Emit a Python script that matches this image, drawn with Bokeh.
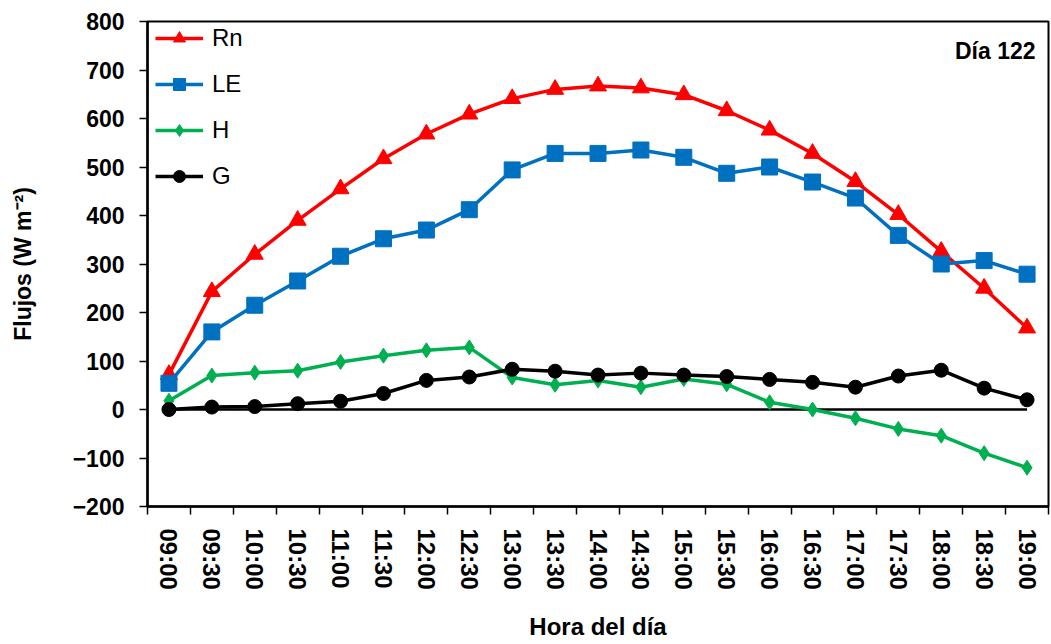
import math
from bokeh.plotting import figure
from bokeh.models import FixedTicker, Legend, LegendItem, Label, Range1d
from bokeh.embed import file_html
from bokeh.resources import INLINE

hours = ["09:00", "09:30", "10:00", "10:30", "11:00", "11:30", "12:00", "12:30",
         "13:00", "13:30", "14:00", "14:30", "15:00", "15:30", "16:00", "16:30",
         "17:00", "17:30", "18:00", "18:30", "19:00"]
rn = [72, 243, 320, 390, 455, 517, 568, 609, 641, 660, 667, 663, 649, 616, 576,
      528, 470, 402, 326, 250, 168]
le = [54, 160, 215, 265, 316, 352, 370, 412, 494, 528, 528, 535, 520, 487, 500,
      469, 436, 359, 300, 307, 279]
h = [18, 70, 76, 80, 98, 111, 122, 128, 66, 51, 60, 46, 63, 52, 15, 0, -18, -40,
     -54, -90, -120]
g = [0, 5, 6, 12, 17, 33, 60, 67, 83, 79, 71, 75, 71, 68, 62, 56, 46, 69, 81, 44, 20]
y_ticks = list(range(-200, 801, 100))

FONT = "Liberation Sans"
idx = list(range(len(hours)))

p = figure(width=1051, height=644, x_range=Range1d(-0.5, len(hours) - 0.5),
           y_range=Range1d(-200, 800), output_backend="svg", toolbar_location=None,
           min_border_left=147, min_border_right=3, min_border_top=21,
           min_border_bottom=138)
p.xgrid.visible = False
p.ygrid.visible = False
p.outline_line_color = "black"
p.outline_line_width = 2
p.background_fill_color = "white"

# zero line
p.line(idx, [0] * len(idx), line_color="black", line_width=2.5)

series = [
    ("Rn", rn, "#FF0000", "triangle", 17),
    ("LE", le, "#0070C0", "square", 16),
    ("H", h, "#00B050", "diamond", 15),
    ("G", g, "#000000", "circle", 14),
]
items = []
for name, vals, col, mk, sz in series:
    lr = p.line(idx, vals, line_color=col, line_width=3.5)
    sr = p.scatter(idx, vals, marker=mk, size=sz, fill_color=col, line_color=col)
    items.append(LegendItem(label=name, renderers=[lr, sr]))

legend = Legend(items=items, location=(8, 315), padding=2, spacing=16,
                glyph_height=30, glyph_width=48, label_height=30,
                label_standoff=9, border_line_color=None,
                background_fill_alpha=0,
                label_text_font=FONT, label_text_font_size="24px",
                label_text_color="black")
p.add_layout(legend)

p.add_layout(Label(x=888, y=456, x_units="screen", y_units="screen",
                   text="Día 122", text_align="right", text_baseline="middle",
                   text_font=FONT, text_font_size="23px", text_font_style="bold",
                   text_color="black"))

# x axis
xa = p.xaxis[0]
xa.ticker = FixedTicker(ticks=idx, minor_ticks=[i - 0.5 for i in range(len(hours) + 1)])
xa.major_label_overrides = {i: lab for i, lab in enumerate(hours)}
xa.major_tick_out = 0
xa.major_tick_in = 0
xa.minor_tick_out = 8
xa.minor_tick_in = 0
xa.minor_tick_line_color = "black"
xa.minor_tick_line_width = 1.5
xa.major_label_orientation = -math.pi / 2
xa.major_label_standoff = 14
xa.major_label_text_font = FONT
xa.major_label_text_font_size = "24px"
xa.major_label_text_font_style = "bold"
xa.major_label_text_color = "black"
xa.axis_line_color = "black"
xa.axis_line_width = 2.5
xa.axis_label = "Hora del día"
xa.axis_label_text_font = FONT
xa.axis_label_text_font_size = "24px"
xa.axis_label_text_font_style = "bold"
xa.axis_label_text_color = "black"
xa.axis_label_standoff = 20

# y axis
ya = p.yaxis[0]
ya.ticker = FixedTicker(ticks=y_ticks, minor_ticks=[])
ya.major_tick_out = 8
ya.major_tick_in = 0
ya.major_tick_line_color = "black"
ya.major_tick_line_width = 1.5
ya.major_label_standoff = 15
ya.major_label_text_font = FONT
ya.major_label_text_font_size = "23px"
ya.major_label_text_font_style = "bold"
ya.major_label_text_color = "black"
ya.axis_line_color = "black"
ya.axis_line_width = 2.5
ya.axis_label = "Flujos (W m⁻²)"
ya.axis_label_text_font = FONT
ya.axis_label_text_font_size = "23px"
ya.axis_label_text_font_style = "bold"
ya.axis_label_text_color = "black"
ya.axis_label_standoff = 34

open("out.html", "w").write(file_html(p, INLINE))
